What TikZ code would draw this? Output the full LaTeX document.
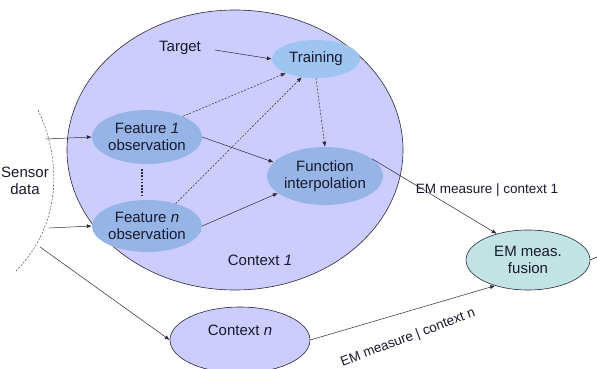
\documentclass[tikz,border=0pt]{standalone}
\usepackage{fontspec}
\setmainfont{Liberation Sans}
\usetikzlibrary{shapes.geometric,arrows.meta}
\definecolor{ctxfill}{RGB}{204,204,255}
\definecolor{featfill}{RGB}{150,180,230}
\definecolor{trainfill}{RGB}{158,196,242}
\definecolor{fusfill}{RGB}{194,227,227}
\definecolor{txt}{RGB}{25,25,45}
\definecolor{edge}{RGB}{40,40,60}
\tikzset{
  blob/.style={ellipse, inner sep=0pt, fill=featfill, text=txt, font=\fontsize{15}{17.5}\selectfont, align=center},
  ctx/.style={ellipse, inner sep=0pt, fill=ctxfill, draw=edge, line width=0.6pt},
  arr/.style={-{Latex[length=5pt,width=4pt]}, draw=edge, line width=0.5pt},
  darr/.style={arr, dash pattern=on 2pt off 1.5pt},
  lbl/.style={text=txt, font=\fontsize{13.5}{16}\selectfont},
  big/.style={text=txt, font=\fontsize{15}{17.5}\selectfont},
}
\begin{document}
\begin{tikzpicture}[x=1pt,y=-1pt]
\useasboundingbox (0,0) rectangle (597,369);
\fill[white] (0,0) rectangle (597,369);
% context ellipses
\node[ctx, minimum width=336pt, minimum height=280pt] (ctx1) at (235,150) {};
\node[ctx, minimum width=140pt, minimum height=66pt] (ctxn) at (240,340) {};
\node[big] (ctxntext) at (240,330) {Context \textit{n}};
\node[big] (ctx1text) at (260,260) {Context \textit{1}};
% inner nodes
\node[blob, fill=trainfill, minimum width=88pt, minimum height=38pt] (train) at (316,59) {Training};
\node[blob, minimum width=110pt, minimum height=54pt] (f1) at (147,137) {Feature \textit{1}\\observation};
\node[blob, minimum width=110pt, minimum height=52pt] (fn) at (147,226) {Feature \textit{n}\\observation};
\node[blob, minimum width=116pt, minimum height=58pt] (func) at (325,176) {Function\\interpolation};
\node[big] (target) at (180,48) {Target};
\node[blob, fill=fusfill, draw=edge, line width=0.6pt, minimum width=124pt, minimum height=60pt] (fus) at (528,260) {EM meas.\\fusion};
\coordinate (out) at (597,257);
% sensor data
\node[big, align=center] (sensor) at (25,181) {Sensor\\data};
\draw[dash pattern=on 2pt off 1.5pt, draw=edge, line width=0.4pt] (38,110) .. controls (62,160) and (62,225) .. (15,272);
\coordinate (s1) at (46,139);
\coordinate (s2) at (49,228);
\coordinate (s3) at (40,247);
\coordinate (tgo) at (215,50);
% connectors
\draw[arr] (s1) -- (f1.west);
\draw[arr] (s2) -- (fn.west);
\draw[arr] (s3) -- (ctxn.west);
\draw[arr] (tgo) -- (train.west);
\draw[darr] (f1.30) -- (train.205);
\draw[darr] (fn.38) -- (train.232);
\draw[darr] (train.south) -- (func.north);
\draw[arr] (f1.east) -- (func.165);
\draw[arr] (fn.east) -- (func.200);
\draw[arr] (func.20) -- (fus.140);
\node[lbl] (l1) at (487,190) {EM measure | context 1};
\draw[arr] (ctxn.east) -- (fus.218);
\node[lbl, rotate=20.5] (ln) at (408,338) {EM measure | context n};
\draw[draw=edge, line width=0.6pt] (fus.east) -- (out);
\draw[line width=2pt, dash pattern=on 1.6pt off 1.6pt, draw=edge] (142,169) -- (142,196);
\end{tikzpicture}
\end{document}
